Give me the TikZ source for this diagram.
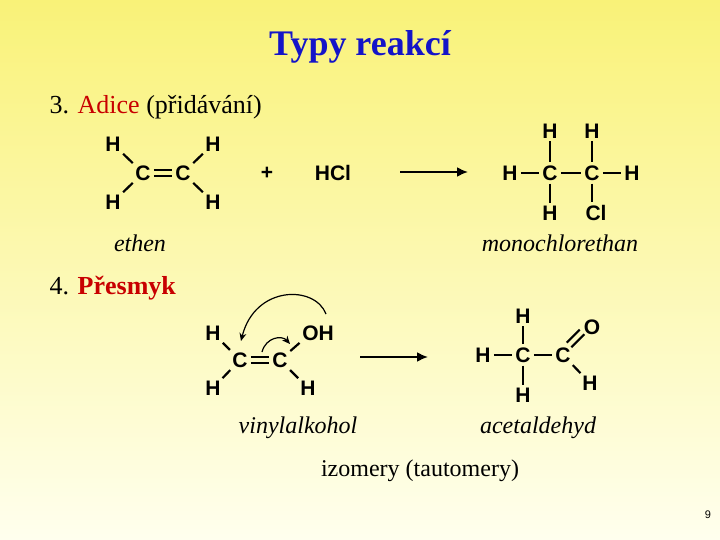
\documentclass[tikz,border=0pt]{standalone}
\usepackage{fontspec}
\setmainfont{Liberation Serif}
\newfontfamily\chemf{Liberation Sans}
\usetikzlibrary{arrows.meta}
\definecolor{ttl}{RGB}{20,20,200}
\definecolor{rd}{RGB}{200,0,0}
\tikzset{
 atm/.style={font=\chemf\bfseries\fontsize{21}{21}\selectfont,inner sep=1pt},
 bd/.style={line width=2.2pt,shorten >=2pt,shorten <=2pt},
 lab/.style={font=\itshape\fontsize{24}{24}\selectfont},
 rarrow/.style={line width=2pt,-{Latex[length=11pt,width=10pt]}},
 curv/.style={line width=1.2pt,-{Stealth[length=8pt,width=7pt]}}
}
\begin{document}
\begin{tikzpicture}[x=1pt,y=-1pt]
\shade[top color={rgb,255:red,249;green,242;blue,120},bottom color={rgb,255:red,255;green,255;blue,238}] (0,0) rectangle (720,540);
\useasboundingbox (0,0) rectangle (720,540);
\node[font=\bfseries\fontsize{36}{36}\selectfont,text=ttl] (t) at (360,47) {Typy reakcí};
\node[anchor=west,font=\fontsize{26}{26}\selectfont] (s3) at (46,107) {3. \textcolor{rd}{Adice} (přidávání)};
\node[anchor=west,font=\fontsize{26}{26}\selectfont] (s4) at (46,288) {4. \textcolor{rd}{\bfseries Přesmyk}};
% ethen
\node[atm] (c1) at (143,173) {C};
\node[atm] (c2) at (183,173) {C};
\node[atm] (h1) at (113,144) {H};
\node[atm] (h2) at (213,144) {H};
\node[atm] (h3) at (113,202) {H};
\node[atm] (h4) at (213,202) {H};
\draw[bd] ([yshift=-3pt]c1.east) -- ([yshift=-3pt]c2.west);
\draw[bd] ([yshift=3pt]c1.east) -- ([yshift=3pt]c2.west);
\draw[bd] (h1) -- (c1); \draw[bd] (h3) -- (c1);
\draw[bd] (h2) -- (c2); \draw[bd] (h4) -- (c2);
\node[atm] (plus) at (267,173) {+};
\node[atm] (hcl) at (333,173) {HCl};
\node[coordinate] (a1s) at (400,172) {};
\node[coordinate] (a1e) at (468,172) {};
\draw[rarrow] (a1s) -- (a1e);
% chloroethane
\node[atm] (ph1) at (510,173) {H};
\node[atm] (pc1) at (550,173) {C};
\node[atm] (pc2) at (592,173) {C};
\node[atm] (ph2) at (632,173) {H};
\node[atm] (ph3) at (550,131) {H};
\node[atm] (ph4) at (592,131) {H};
\node[atm] (ph5) at (550,213) {H};
\node[atm] (pcl) at (596,213) {Cl};
\draw[bd] (ph1) -- (pc1); \draw[bd] (pc1) -- (pc2); \draw[bd] (pc2) -- (ph2);
\draw[bd] (ph3) -- (pc1); \draw[bd] (pc1) -- (ph5);
\draw[bd] (ph4) -- (pc2); \draw[bd] (pc2) -- (pcl.north -| pc2);
\node[lab] (l1) at (140,243) {ethen};
\node[lab] (l2) at (560,243) {monochlorethan};
% vinyl alcohol
\node[atm] (vc1) at (240,360) {C};
\node[atm] (vc2) at (280,360) {C};
\node[atm] (vh1) at (213,333) {H};
\node[atm] (voh) at (318,333) {OH};
\node[atm] (vh3) at (213,388) {H};
\node[atm] (vh4) at (308,388) {H};
\draw[bd] ([yshift=-3pt]vc1.east) -- ([yshift=-3pt]vc2.west);
\draw[bd] ([yshift=3pt]vc1.east) -- ([yshift=3pt]vc2.west);
\draw[bd] (vh1) -- (vc1); \draw[bd] (vh3) -- (vc1);
\draw[bd] (voh.south west) -- (vc2); \draw[bd] (vh4) -- (vc2);
\draw[curv] (326,314) .. controls (315,285) and (255,285) .. (241,341);
\draw[curv] (262,352) .. controls (266,337) and (282,335) .. (290,344);
\node[coordinate] (a2s) at (360,357) {};
\node[coordinate] (a2e) at (428,357) {};
\draw[rarrow] (a2s) -- (a2e);
% acetaldehyde
\node[atm] (ah1) at (483,355) {H};
\node[atm] (ac1) at (523,355) {C};
\node[atm] (ac2) at (563,355) {C};
\node[atm] (ah2) at (523,316) {H};
\node[atm] (ah3) at (523,395) {H};
\node[atm] (ao) at (592,327) {O};
\node[atm] (ah4) at (590,383) {H};
\draw[bd] (ah1) -- (ac1); \draw[bd] (ac1) -- (ac2);
\draw[bd] (ah2) -- (ac1); \draw[bd] (ac1) -- (ah3);
\draw[bd] (ac2) -- (ah4);
\coordinate (d1) at (569,345);
\coordinate (d2) at (582,332);
\draw[line width=2.2pt] ([shift={(-2.3,-2.3)}]d1) -- ([shift={(-2.3,-2.3)}]d2);
\draw[line width=2.2pt] ([shift={(2.3,2.3)}]d1) -- ([shift={(2.3,2.3)}]d2);
\node[lab] (l3) at (298,428) {vinylalkohol};
\node[lab] (l4) at (538,428) {acetaldehyd};
\node[font=\fontsize{24}{24}\selectfont] (iz) at (420,471) {izomery (tautomery)};
\node[font=\chemf\fontsize{11}{11}\selectfont] (pg) at (708,515) {9};
\end{tikzpicture}
\end{document}
